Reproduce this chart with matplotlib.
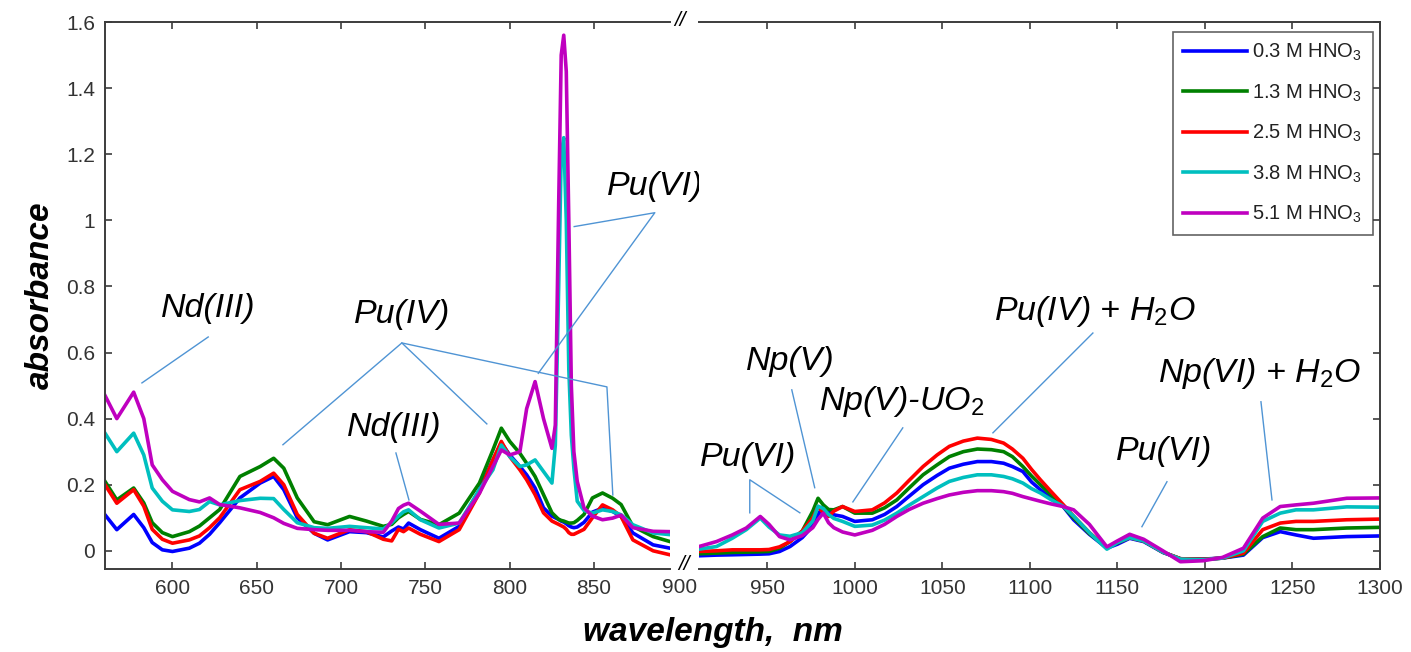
import matplotlib
matplotlib.use("Agg")
import matplotlib.pyplot as plt
from matplotlib.ticker import FixedLocator, FixedFormatter

plt.rcParams.update({
    "font.family": ["Liberation Sans", "DejaVu Sans"],
    "mathtext.fontset": "custom",
    "mathtext.rm": "Liberation Sans",
    "mathtext.it": "Liberation Sans:italic",
    "mathtext.bf": "Liberation Sans:bold",
})

W, H = 1411, 652

# --- spectra, 560-895 nm segment ---
wl_left = [560, 567, 577, 583, 588, 594, 600, 610, 616, 622, 628, 640, 652, 660,
           666, 674, 684, 692, 705, 715, 725, 730, 734, 737, 740, 747, 758, 770,
           782, 790, 795, 800, 806, 810, 815, 820, 825, 827, 829, 830.5, 832,
           833.5, 835, 836.5, 838, 840, 844, 849, 855, 861, 866, 873, 885, 895]

a03_left = [0.109, 0.064, 0.110, 0.070, 0.025, 0.003, -0.002, 0.008, 0.023, 0.050,
            0.085, 0.160, 0.205, 0.225, 0.185, 0.100, 0.053, 0.033, 0.058, 0.055,
            0.042, 0.060, 0.072, 0.066, 0.084, 0.064, 0.038, 0.074, 0.185, 0.275,
            0.326, 0.290, 0.255, 0.230, 0.190, 0.130, 0.105, 0.100, 0.095, 0.090,
            0.087, 0.082, 0.076, 0.072, 0.070, 0.072, 0.086, 0.117, 0.129, 0.119,
            0.104, 0.054, 0.018, 0.008]
a13_left = [0.210, 0.154, 0.190, 0.145, 0.085, 0.055, 0.043, 0.058, 0.075, 0.100,
            0.125, 0.225, 0.255, 0.280, 0.250, 0.160, 0.088, 0.079, 0.104, 0.090,
            0.074, 0.080, 0.100, 0.110, 0.119, 0.095, 0.079, 0.114, 0.205, 0.305,
            0.371, 0.331, 0.295, 0.265, 0.225, 0.170, 0.115, 0.105, 0.095, 0.092,
            0.090, 0.087, 0.084, 0.084, 0.085, 0.092, 0.110, 0.160, 0.175, 0.159,
            0.140, 0.074, 0.043, 0.028]
a25_left = [0.200, 0.144, 0.185, 0.135, 0.065, 0.035, 0.023, 0.033, 0.045, 0.070,
            0.100, 0.185, 0.210, 0.235, 0.200, 0.110, 0.053, 0.038, 0.064, 0.058,
            0.035, 0.030, 0.065, 0.058, 0.069, 0.050, 0.028, 0.064, 0.175, 0.275,
            0.331, 0.285, 0.245, 0.215, 0.170, 0.115, 0.090, 0.085, 0.080, 0.076,
            0.072, 0.065, 0.055, 0.050, 0.050, 0.055, 0.065, 0.100, 0.139, 0.124,
            0.104, 0.033, 0.000, -0.012]
a38_left = [0.356, 0.300, 0.356, 0.290, 0.190, 0.150, 0.124, 0.119, 0.125, 0.149,
            0.139, 0.152, 0.159, 0.158, 0.125, 0.085, 0.070, 0.068, 0.074, 0.070,
            0.066, 0.085, 0.105, 0.118, 0.124, 0.094, 0.069, 0.084, 0.185, 0.245,
            0.320, 0.285, 0.255, 0.260, 0.275, 0.240, 0.205, 0.320, 0.800, 1.200,
            1.250, 1.000, 0.550, 0.350, 0.250, 0.150, 0.122, 0.114, 0.124, 0.119,
            0.109, 0.079, 0.054, 0.049]
a51_left = [0.470, 0.400, 0.480, 0.400, 0.260, 0.215, 0.180, 0.155, 0.148, 0.160,
            0.140, 0.130, 0.116, 0.100, 0.083, 0.068, 0.064, 0.062, 0.062, 0.058,
            0.056, 0.090, 0.128, 0.138, 0.144, 0.120, 0.080, 0.084, 0.174, 0.255,
            0.305, 0.290, 0.300, 0.430, 0.512, 0.400, 0.310, 0.380, 1.050, 1.500,
            1.560, 1.450, 1.000, 0.500, 0.300, 0.210, 0.130, 0.105, 0.094, 0.099,
            0.108, 0.070, 0.059, 0.058]

# --- spectra, 911-1300 nm segment ---
wl_right = [911, 921, 930, 938, 946, 951, 957, 963, 970, 976, 979, 982, 985, 988,
            993, 1000, 1010, 1017, 1024, 1031, 1039, 1047, 1054, 1062, 1070, 1078,
            1085, 1090, 1096, 1101, 1106, 1112, 1119, 1125, 1134, 1144, 1150, 1157,
            1165, 1176, 1186, 1199, 1210, 1222, 1233, 1243, 1252, 1262, 1281, 1300]

a03_right = [-0.015, -0.013, -0.012, -0.011, -0.010, -0.009, -0.002, 0.013, 0.040,
             0.075, 0.110, 0.134, 0.120, 0.109, 0.104, 0.089, 0.094, 0.110, 0.134,
             0.165, 0.200, 0.228, 0.250, 0.262, 0.270, 0.270, 0.265, 0.255, 0.240,
             0.208, 0.185, 0.160, 0.134, 0.094, 0.050, 0.008, 0.020, 0.038, 0.028,
             -0.005, -0.024, -0.025, -0.022, -0.013, 0.040, 0.058, 0.048, 0.038,
             0.043, 0.045]
a13_right = [-0.009, -0.007, -0.005, -0.004, -0.003, -0.002, 0.008, 0.028, 0.060,
             0.120, 0.159, 0.139, 0.125, 0.124, 0.134, 0.114, 0.114, 0.130, 0.154,
             0.190, 0.230, 0.260, 0.285, 0.300, 0.308, 0.306, 0.300, 0.285, 0.255,
             0.226, 0.200, 0.170, 0.135, 0.100, 0.052, 0.010, 0.024, 0.040, 0.030,
             -0.004, -0.024, -0.026, -0.022, -0.010, 0.043, 0.069, 0.064, 0.064,
             0.069, 0.071]
a25_right = [-0.002, 0.000, 0.003, 0.003, 0.003, 0.004, 0.012, 0.028, 0.060, 0.100,
             0.134, 0.115, 0.104, 0.120, 0.134, 0.119, 0.124, 0.145, 0.175, 0.213,
             0.255, 0.290, 0.316, 0.332, 0.341, 0.337, 0.326, 0.308, 0.280, 0.246,
             0.215, 0.180, 0.140, 0.105, 0.055, 0.010, 0.025, 0.040, 0.030, -0.004,
             -0.024, -0.026, -0.022, -0.007, 0.064, 0.084, 0.089, 0.089, 0.094,
             0.096]
a38_right = [0.005, 0.013, 0.038, 0.064, 0.099, 0.072, 0.048, 0.044, 0.055, 0.090,
             0.135, 0.128, 0.110, 0.098, 0.089, 0.074, 0.078, 0.093, 0.114, 0.138,
             0.164, 0.190, 0.210, 0.222, 0.230, 0.230, 0.225, 0.218, 0.205, 0.188,
             0.175, 0.155, 0.135, 0.105, 0.055, 0.005, 0.025, 0.040, 0.030, -0.004,
             -0.025, -0.027, -0.022, 0.000, 0.089, 0.114, 0.124, 0.124, 0.133,
             0.132]
a51_right = [0.013, 0.028, 0.048, 0.069, 0.104, 0.080, 0.043, 0.033, 0.046, 0.070,
             0.095, 0.114, 0.085, 0.070, 0.057, 0.048, 0.062, 0.080, 0.104, 0.125,
             0.144, 0.158, 0.169, 0.177, 0.182, 0.182, 0.179, 0.174, 0.164, 0.157,
             0.150, 0.142, 0.134, 0.124, 0.080, 0.012, 0.030, 0.050, 0.035, 0.000,
             -0.033, -0.030, -0.020, 0.008, 0.099, 0.134, 0.139, 0.144, 0.159,
             0.160]

series_labels = ["0.3 M HNO$_3$", "1.3 M HNO$_3$", "2.5 M HNO$_3$",
                 "3.8 M HNO$_3$", "5.1 M HNO$_3$"]
series_colors = ["#0000ff", "#008000", "#ff0000", "#00bfbf", "#bf00bf"]
left_sets = [a03_left, a13_left, a25_left, a38_left, a51_left]
right_sets = [a03_right, a13_right, a25_right, a38_right, a51_right]

yticks = [0, 0.2, 0.4, 0.6, 0.8, 1.0, 1.2, 1.4, 1.6]
ytick_labels = ["0", "0.2", "0.4", "0.6", "0.8", "1", "1.2", "1.4", "1.6"]
xticks_left = [600, 650, 700, 750, 800, 850]
xticks_right = [950, 1000, 1050, 1100, 1150, 1200, 1250, 1300]

# band labels: (text, x, baseline y, leader polylines)
notes_left = [
    ("Nd(III)", 621, 0.708, [[(621.2, 0.647), (581.9, 0.508)]]),
    ("Pu(IV)", 736, 0.690, [[(665.5, 0.321), (736.0, 0.629), (786.4, 0.384)],
                            [(736.0, 0.629), (857.6, 0.496), (861.1, 0.169)]]),
    ("Nd(III)", 731.3, 0.348, [[(732.5, 0.296), (740.2, 0.154)]]),
    ("Pu(VI)", 886, 1.078, [[(838.2, 0.981), (886.0, 1.023), (816.9, 0.537)]]),
]
notes_right = [
    ("Pu(VI)", 938.9, 0.257, [[(940.0, 0.115), (940.0, 0.215), (968.6, 0.115)]]),
    ("Np(V)", 962.9, 0.547, [[(964.0, 0.487), (977.1, 0.191)]]),
    ("Np(V)-UO$_2$", 1026.6, 0.426, [[(1027.4, 0.372), (998.9, 0.148)]]),
    ("Pu(IV) + H$_2$O", 1137.1, 0.699, [[(1136.0, 0.659), (1078.9, 0.357)]]),
    ("Pu(VI)", 1176.9, 0.275, [[(1178.3, 0.209), (1164.0, 0.073)]]),
    ("Np(VI) + H$_2$O", 1231.1, 0.511, [[(1232.0, 0.451), (1238.3, 0.154)]]),
]

SPINE = "#3c3c3c"
LEADER = "#4f94d4"
TICK_FS = 15
NOTE_FS = 24.5

fig = plt.figure(figsize=(W / 100, H / 100), dpi=100, facecolor="white")
ax_l = fig.add_axes([105 / W, 1 - 569 / H, (670 - 105) / W, (569 - 22) / H])
ax_r = fig.add_axes([699 / W, 1 - 569 / H, (1380 - 699) / W, (569 - 22) / H])

for ax, wl, sets in ((ax_l, wl_left, left_sets), (ax_r, wl_right, right_sets)):
    for vals, col, lab in zip(sets, series_colors, series_labels):
        ax.plot(wl, vals, color=col, lw=2.6, label=lab, solid_joinstyle="round")
    ax.set_ylim(-0.055, 1.6)
    ax.yaxis.set_major_locator(FixedLocator(yticks))
    for s in ax.spines.values():
        s.set_color(SPINE)
        s.set_linewidth(1.4)
    ax.tick_params(direction="in", length=5, width=1.2, color=SPINE,
                   labelsize=TICK_FS, labelcolor="#333333", top=True, pad=7)

ax_l.set_xlim(560, 895)
ax_l.xaxis.set_major_locator(FixedLocator(xticks_left))
ax_l.yaxis.set_major_formatter(FixedFormatter(ytick_labels))
ax_l.spines["right"].set_visible(False)
ax_l.tick_params(right=False)

ax_r.set_xlim(911, 1300)
ax_r.xaxis.set_major_locator(FixedLocator(xticks_right))
ax_r.spines["left"].set_visible(False)
ax_r.tick_params(left=False, labelleft=False, right=True)

# 900 sits in the gap between the two segments
ax_r.text(900, -0.016, "900", transform=ax_r.get_xaxis_transform(),
          ha="center", va="top", fontsize=TICK_FS, color="#333333", clip_on=False)

for ax, notes in ((ax_l, notes_left), (ax_r, notes_right)):
    for txt, x, y, legs in notes:
        ax.text(x, y, txt, ha="center", va="baseline", fontsize=NOTE_FS,
                fontstyle="italic", color="black", clip_on=False)
        for leg in legs:
            xs, ys = zip(*leg)
            ax.plot(xs, ys, color=LEADER, lw=1.0, clip_on=False)

# axis-break marks
for xp, yp in ((680, 21), (684, 565)):
    fig.text(xp / W, 1 - yp / H, "//", ha="center", va="center", fontsize=15,
             fontstyle="italic", color="black")

leg = ax_r.legend(loc="upper right", bbox_to_anchor=(0.989, 0.982),
                  borderaxespad=0, fontsize=14.5, frameon=True, fancybox=False,
                  handlelength=3.2, handletextpad=0.25, labelspacing=0.95,
                  borderpad=0.5)
leg.get_frame().set_edgecolor(SPINE)
leg.get_frame().set_linewidth(1.2)
for t in leg.get_texts():
    t.set_color("#222222")

fig.text(40 / W, 1 - 295 / H, "absorbance", rotation=90, ha="center", va="center",
         fontsize=24, fontweight="bold", fontstyle="italic")
fig.text(713 / W, 1 - 632 / H, "wavelength,  nm", ha="center", va="center",
         fontsize=24, fontweight="bold", fontstyle="italic")

fig.savefig("out.png", dpi=100, facecolor="white")
